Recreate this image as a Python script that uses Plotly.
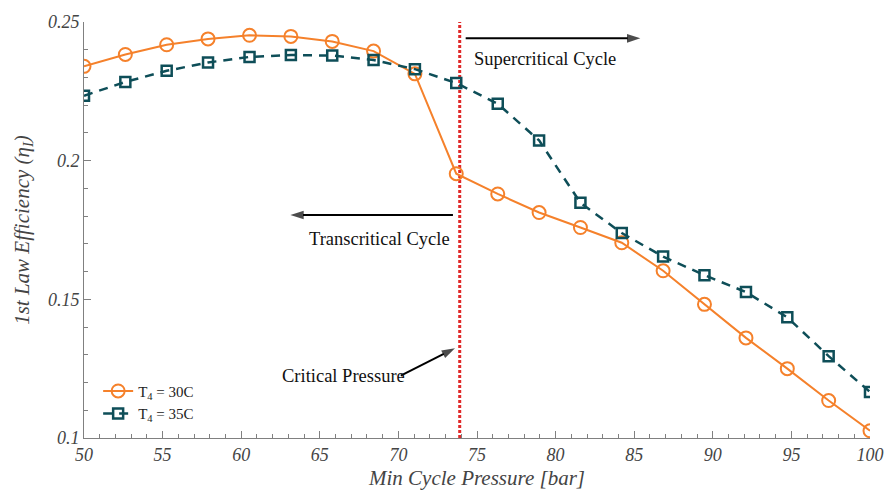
import plotly.graph_objects as go

# ---- data ----
pressure = [50.00, 52.63, 55.26, 57.89, 60.53, 63.16, 65.79, 68.42, 71.05, 73.68,
            76.32, 78.95, 81.58, 84.21, 86.84, 89.47, 92.11, 94.74, 97.37, 100.00]
eff_t30 = [0.2340, 0.2383, 0.2418, 0.2439, 0.2452, 0.2448, 0.2430, 0.2395, 0.2313, 0.1953,
           0.1880, 0.1813, 0.1759, 0.1704, 0.1603, 0.1482, 0.1361, 0.1250, 0.1135, 0.1026]
eff_t35 = [0.2234, 0.2284, 0.2324, 0.2354, 0.2374, 0.2381, 0.2379, 0.2363, 0.2330, 0.2280,
           0.2205, 0.2073, 0.1848, 0.1739, 0.1654, 0.1587, 0.1526, 0.1435, 0.1295, 0.1166]
series_names = ["T<sub>4</sub> = 30C", "T<sub>4</sub> = 35C"]
critical_pressure = 73.9
x_ticks = [50, 55, 60, 65, 70, 75, 80, 85, 90, 95, 100]
y_ticks = [0.1, 0.15, 0.2, 0.25]
y_tick_text = ["0.1", "0.15", "0.2", "0.25"]

# annotation arrows: (tail x, tail y, head x, head y)
arrow_super = [74.28, 0.2441, 85.39, 0.2441]
arrow_trans = [73.47, 0.1804, 63.13, 0.1804]
arrow_crit = [70.15, 0.1225, 73.60, 0.1324]

ORANGE = "#f5812b"
TEAL = "#0e4e58"
SERIF = "Liberation Serif, Times New Roman, serif"
GRAY = "#808080"

fig = go.Figure()
fig.add_trace(go.Scatter(
    x=[critical_pressure, critical_pressure], y=[0.1, 0.25], mode="lines",
    line=dict(color="#e02828", width=3, dash="3px,2px"), showlegend=False, hoverinfo="skip"))
fig.add_trace(go.Scatter(
    x=pressure, y=eff_t30, mode="lines+markers", name=series_names[0],
    line=dict(color=ORANGE, width=2),
    marker=dict(symbol="circle-open", size=13, color=ORANGE, line=dict(width=2, color=ORANGE))))
fig.add_trace(go.Scatter(
    x=pressure, y=eff_t35, mode="lines+markers", name=series_names[1],
    line=dict(color=TEAL, width=2.5, dash="9px,7px"),
    marker=dict(symbol="square-open", size=10, color=TEAL, line=dict(width=2.5, color=TEAL))))

for a in (arrow_super, arrow_trans, arrow_crit):
    fig.add_trace(go.Scatter(
        x=[a[0], a[2]], y=[a[1], a[3]], mode="lines+markers", showlegend=False, hoverinfo="skip",
        line=dict(color="black", width=2),
        marker=dict(symbol=["circle", "arrow"], size=[0, 14], color="black", angleref="previous",
                    line=dict(width=0))))

txt_font = dict(family=SERIF, size=18.5, color="#111111")
fig.add_annotation(x=74.65, y=0.2365, xref="x", yref="y", text="Supercritical Cycle", showarrow=False,
                   xanchor="left", yanchor="middle", font=txt_font)
fig.add_annotation(x=73.4, y=0.1716, xref="x", yref="y", text="Transcritical Cycle", showarrow=False,
                   xanchor="right", yanchor="middle", font=txt_font)
fig.add_annotation(x=62.45, y=0.1225, xref="x", yref="y", text="Critical Pressure", showarrow=False,
                   xanchor="left", yanchor="middle", font=txt_font)

axis_common = dict(
    showline=True, linecolor=GRAY, linewidth=1, mirror=False, showgrid=False, zeroline=False,
    ticks="inside", ticklen=7, tickcolor=GRAY, tickwidth=1,
    tickfont=dict(family=SERIF, size=18, color="#444444", style="italic"),
)
fig.update_xaxes(
    range=[50, 100], tickvals=x_ticks,
    minor=dict(dtick=1, ticks="inside", ticklen=4, tickcolor=GRAY),
    title=dict(text="Min Cycle Pressure [bar]", font=dict(family=SERIF, size=21, color="#444444", style="italic"), standoff=6),
    **axis_common)
fig.update_yaxes(
    range=[0.1, 0.25], tickvals=y_ticks, ticktext=y_tick_text,
    minor=dict(dtick=0.01, ticks="inside", ticklen=4, tickcolor=GRAY),
    title=dict(text="1st Law Efficiency (η<sub>I</sub>)", font=dict(family=SERIF, size=21, color="#444444", style="italic"), standoff=12),
    **axis_common)

fig.update_layout(
    width=896, height=497,
    margin=dict(l=84, r=15, t=13, b=56),
    plot_bgcolor="white", paper_bgcolor="white",
    legend=dict(x=0.018, y=0.02, xanchor="left", yanchor="bottom", bgcolor="rgba(0,0,0,0)",
                font=dict(family=SERIF, size=15, color="#222222"), itemwidth=30, tracegroupgap=0),
)

fig.write_html("out.html")
